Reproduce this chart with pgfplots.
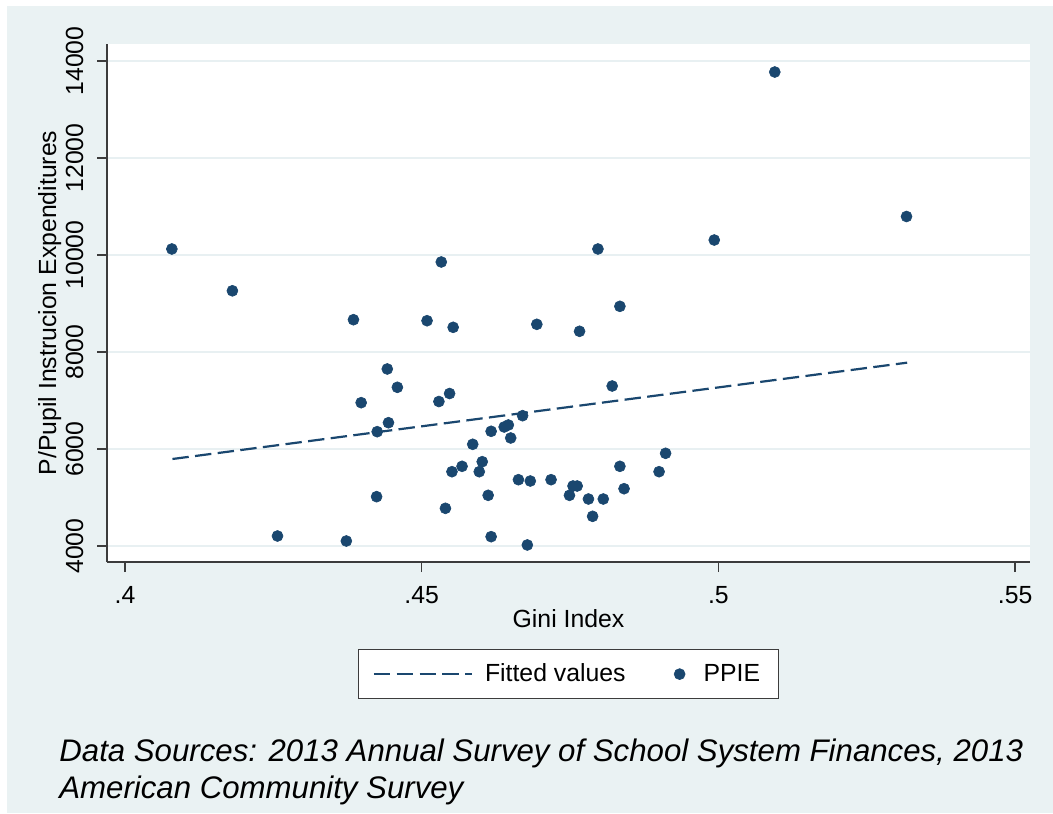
\documentclass[border=0pt]{standalone}
\usepackage{pgfplots}
\pgfplotsset{compat=1.18}
\usepackage{fontspec}
\setmainfont{Liberation Sans}
\definecolor{stnavy}{RGB}{26,71,111}
\definecolor{stbg}{RGB}{234,242,243}
\definecolor{stgrid}{RGB}{232,240,242}
\definecolor{staxis}{RGB}{60,60,60}
\pgfplotsset{
  fitline legend/.style={legend image code/.code={\draw[##1] (0pt,0pt) -- (49pt,0pt);}},
  dot legend/.style={legend image code/.code={\draw[##1, mark repeat=1] plot coordinates {(0pt,0pt)};}},
}

\begin{document}
\begin{tikzpicture}[font=\fontsize{12.4}{15}\selectfont]
% graph region (1px = 0.5pt)
\fill[white] (0,0) rectangle (526.5pt,406.5pt);
\fill[stbg] (3.5pt,0) rectangle (526.5pt,403.5pt);
\begin{axis}[
  at={(53.5pt,125.5pt)}, anchor=south west,
  width=461.5pt, height=259pt, scale only axis,
  xmin=0.39697, xmax=0.55251, ymin=3670, ymax=14351,
  axis background/.style={fill=white},
  axis x line*=bottom, axis y line*=left,
  axis line style={staxis, line width=0.7pt, -},
  xtick={0.4,0.45,0.5,0.55}, xticklabels={.4,.45,.5,.55},
  ytick={4000,6000,8000,10000,12000,14000},
  yticklabels={4000,6000,8000,10000,12000,14000},
  scaled y ticks=false, scaled x ticks=false,
  tick align=outside, major tick length=5pt,
  tick style={staxis, line width=0.7pt},
  ymajorgrids, grid style={stgrid, line width=1.3pt},
  yticklabel style={rotate=90, anchor=base, inner sep=0pt},
  xticklabel style={anchor=base, inner sep=0pt},
  xticklabel shift=15.5pt, yticklabel shift=7pt,
  every axis x label/.style={at={(axis description cs:0.5,-0.1255)}, anchor=base},
  every axis y label/.style={at={(axis description cs:-0.05525,0.5)}, rotate=90, anchor=base},
  xlabel={Gini Index},
  ylabel={P/Pupil Instrucion Expenditures},
  legend columns=2,
  legend style={at={(axis description cs:0.5,-0.168)}, anchor=north,
    draw=staxis, line width=0.6pt, fill=white, inner xsep=7pt, inner ysep=5pt,
    /tikz/column 2/.style={column sep=22.25pt},
    /tikz/column 1/.style={column sep=4pt},
    /tikz/column 3/.style={column sep=7.25pt}},
  legend cell align=left,
]
\addplot[stnavy, line width=1.1pt, dash pattern=on 8.2pt off 3.2pt, fitline legend]
  coordinates {(0.4080,5794) (0.5318,7780)};
\addlegendentry{Fitted values}
\addplot[only marks, mark=*, mark size=2.75pt, color=stnavy,
  mark options={draw=stnavy, fill=stnavy, line width=0.3pt}, dot legend]
  coordinates {
  (0.4079,10124) (0.4181,9262) (0.4257,4206) (0.4373,4103) (0.4385,8666)
  (0.4398,6955) (0.4424,5017) (0.4425,6357) (0.4444,6542) (0.4442,7650)
  (0.4459,7272) (0.4509,8645) (0.4529,6979) (0.4533,9856) (0.4540,4777)
  (0.4547,7144) (0.4551,5532) (0.4553,8509) (0.4568,5643) (0.4586,6097)
  (0.4597,5532) (0.4602,5738) (0.4612,5045) (0.4617,6365) (0.4617,4192)
  (0.4639,6454) (0.4646,6495) (0.4650,6227) (0.4663,5367) (0.4670,6687)
  (0.4678,4021) (0.4683,5340) (0.4694,8571) (0.4718,5367) (0.4749,5045)
  (0.4755,5237) (0.4762,5237) (0.4766,8427) (0.4781,4969) (0.4788,4612)
  (0.4797,10124) (0.4806,4969) (0.4821,7299) (0.4834,8942) (0.4834,5643)
  (0.4841,5181) (0.4900,5532) (0.4911,5911) (0.4993,10309) (0.5095,13773)
  (0.5317,10794)
  };
\addlegendentry{PPIE}
\end{axis}
\node[anchor=base west, inner sep=0pt, font=\fontsize{15.6}{18}\selectfont\itshape] at (29.5pt,25.6pt)
  {Data Sources: 2013 Annual Survey of School System Finances, 2013};
\node[anchor=base west, inner sep=0pt, font=\fontsize{15.6}{18}\selectfont\itshape] at (29.5pt,7.5pt)
  {American Community Survey};
\end{tikzpicture}
\end{document}
